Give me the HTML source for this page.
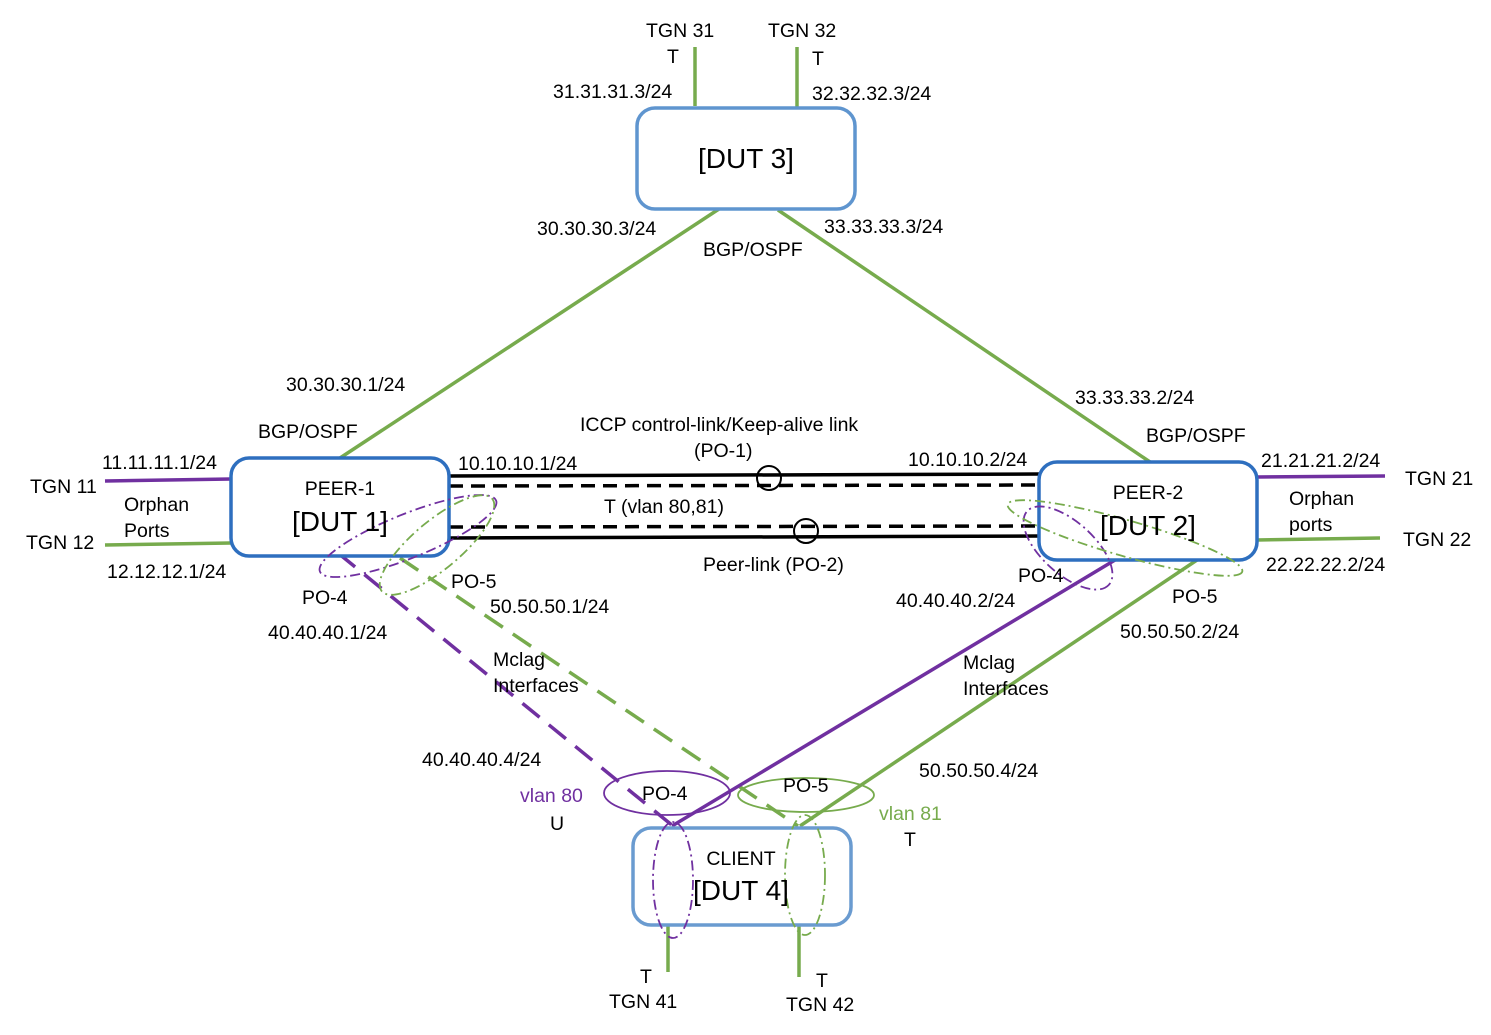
<!DOCTYPE html>
<html><head><style>body{margin:0;background:#fff}svg text{font-family:"Liberation Sans",sans-serif;font-size:19.5px;fill:#000}</style></head><body>
<svg width="1491" height="1030" viewBox="0 0 1491 1030" xmlns="http://www.w3.org/2000/svg">
<g stroke-width="3.5" fill="none">
<line x1="695" y1="47" x2="695" y2="106" stroke="#77ab4d"/>
<line x1="797" y1="47" x2="797" y2="110" stroke="#77ab4d"/>
<line x1="722" y1="207" x2="340" y2="458" stroke="#77ab4d"/>
<line x1="778" y1="210" x2="1150" y2="462" stroke="#77ab4d"/>
<line x1="105" y1="481" x2="231" y2="479" stroke="#7030a0"/>
<line x1="105" y1="545" x2="231" y2="543" stroke="#77ab4d"/>
<line x1="1257" y1="477" x2="1385" y2="476" stroke="#7030a0"/>
<line x1="1257" y1="540" x2="1380" y2="538" stroke="#77ab4d"/>
<line x1="449" y1="476" x2="1039" y2="474" stroke="#000"/>
<line x1="449" y1="486" x2="1039" y2="485" stroke="#000" stroke-dasharray="14,8"/>
<line x1="449" y1="527" x2="1039" y2="526" stroke="#000" stroke-dasharray="14,8"/>
<line x1="449" y1="538" x2="1039" y2="536" stroke="#000"/>
<circle cx="769" cy="478" r="12" stroke="#000" stroke-width="2"/>
<circle cx="806" cy="531" r="12" stroke="#000" stroke-width="2"/>
<line x1="338" y1="553" x2="673" y2="826" stroke="#7030a0" stroke-dasharray="22,12"/>
<line x1="400" y1="558" x2="798" y2="826" stroke="#77ab4d" stroke-dasharray="22,12"/>
<line x1="1115" y1="560" x2="672" y2="826" stroke="#7030a0"/>
<line x1="1197" y1="560" x2="800" y2="826" stroke="#77ab4d"/>
<line x1="668" y1="925" x2="668" y2="972" stroke="#77ab4d"/>
<line x1="799" y1="925" x2="799" y2="977" stroke="#77ab4d"/>
</g>
<g fill="#fff" stroke-width="3.5">
<rect x="637" y="108" width="218" height="101" rx="18" stroke="#5f95cf"/>
<rect x="231" y="458" width="218" height="98" rx="18" stroke="#2e6fbf"/>
<rect x="1039" y="462" width="218" height="98" rx="18" stroke="#2e6fbf"/>
<rect x="633" y="828" width="218" height="97" rx="18" stroke="#6a9bd0"/>
</g>
<g fill="none" stroke-width="1.8">
<ellipse cx="667" cy="793" rx="63" ry="22" stroke="#7030a0"/>
<ellipse cx="806" cy="795" rx="68" ry="17" stroke="#77ab4d"/>
<g stroke-dasharray="10,4,2,4">
<ellipse cx="673" cy="880" rx="20" ry="58" stroke="#7030a0"/>
<ellipse cx="805" cy="875" rx="20" ry="60" stroke="#77ab4d"/>
<ellipse cx="408" cy="536" rx="95" ry="22" transform="rotate(-22 408 536)" stroke="#7030a0"/>
<ellipse cx="437" cy="545" rx="72" ry="24" transform="rotate(-40 437 545)" stroke="#77ab4d"/>
<ellipse cx="1068" cy="548" rx="55" ry="26" transform="rotate(42 1068 548)" stroke="#7030a0"/>
<ellipse cx="1125" cy="538" rx="122" ry="18" transform="rotate(16 1125 538)" stroke="#77ab4d"/>
</g></g>
<g>
<text x="646" y="37">TGN 31</text><text x="667" y="63">T</text>
<text x="768" y="37">TGN 32</text><text x="812" y="65">T</text>
<text x="553" y="98">31.31.31.3/24</text><text x="812" y="100">32.32.32.3/24</text>
<text x="746" y="168" text-anchor="middle" style="font-size:28px">[DUT 3]</text>
<text x="537" y="235">30.30.30.3/24</text><text x="824" y="233">33.33.33.3/24</text>
<text x="703" y="256">BGP/OSPF</text>
<text x="286" y="391">30.30.30.1/24</text><text x="1075" y="404">33.33.33.2/24</text>
<text x="258" y="438">BGP/OSPF</text><text x="1146" y="442">BGP/OSPF</text>
<text x="580" y="431">ICCP control-link/Keep-alive link</text>
<text x="694" y="457">(PO-1)</text>
<text x="102" y="469">11.11.11.1/24</text><text x="30" y="493">TGN 11</text>
<text x="124" y="511">Orphan</text><text x="124" y="537">Ports</text>
<text x="26" y="549">TGN 12</text><text x="107" y="578">12.12.12.1/24</text>
<text x="340" y="495" text-anchor="middle">PEER-1</text>
<text x="340" y="531" text-anchor="middle" style="font-size:28px">[DUT 1]</text>
<text x="458" y="470">10.10.10.1/24</text><text x="908" y="466">10.10.10.2/24</text>
<text x="604" y="513">T (vlan 80,81)</text>
<text x="703" y="571">Peer-link (PO-2)</text>
<text x="1148" y="499" text-anchor="middle">PEER-2</text>
<text x="1148" y="535" text-anchor="middle" style="font-size:28px">[DUT 2]</text>
<text x="1261" y="467">21.21.21.2/24</text><text x="1405" y="485">TGN 21</text>
<text x="1289" y="505">Orphan</text><text x="1289" y="531">ports</text>
<text x="1403" y="546">TGN 22</text><text x="1266" y="571">22.22.22.2/24</text>
<text x="451" y="588">PO-5</text><text x="302" y="604">PO-4</text>
<text x="490" y="613">50.50.50.1/24</text><text x="268" y="639">40.40.40.1/24</text>
<text x="1018" y="582">PO-4</text><text x="1172" y="603">PO-5</text>
<text x="896" y="607">40.40.40.2/24</text><text x="1120" y="638">50.50.50.2/24</text>
<text x="493" y="666">Mclag</text><text x="493" y="692">Interfaces</text>
<text x="963" y="669">Mclag</text><text x="963" y="695">Interfaces</text>
<text x="422" y="766">40.40.40.4/24</text><text x="919" y="777">50.50.50.4/24</text>
<text x="642" y="800">PO-4</text><text x="783" y="792">PO-5</text>
<text x="520" y="802" style="fill:#7030a0">vlan 80</text><text x="550" y="830">U</text>
<text x="879" y="820" style="fill:#77ab4d">vlan 81</text><text x="904" y="846">T</text>
<text x="741" y="865" text-anchor="middle">CLIENT</text>
<text x="741" y="900" text-anchor="middle" style="font-size:28px">[DUT 4]</text>
<text x="640" y="983">T</text><text x="609" y="1008">TGN 41</text>
<text x="816" y="987">T</text><text x="786" y="1011">TGN 42</text>
</g>
</svg>
</body></html>
